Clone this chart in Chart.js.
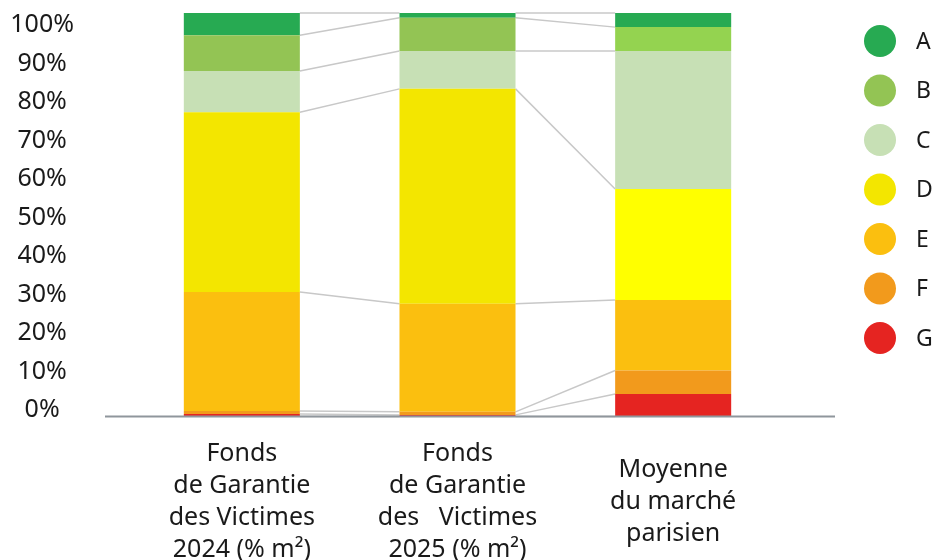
<!DOCTYPE html>
<html>
<head>
<meta charset="utf-8">
<script src="https://cdn.jsdelivr.net/npm/chart.js@4"></script>
<style>
body{margin:0;background:#fff}
#wrap{width:938px;height:560px}
</style>
</head>
<body>
<div id="wrap"><canvas id="dpeChart"></canvas></div>
<script>
// x categories, one entry per label line
const categories = [
  ["Fonds", "de Garantie", "des Victimes", "2024 (% m²)"],
  ["Fonds", "de Garantie", "des   Victimes", "2025 (% m²)"],
  ["Moyenne", "du marché", "parisien"]
];
const classes = ["A", "B", "C", "D", "E", "F", "G"];

// share of surface per energy class (%), one value per bar
const shareA = [5.5, 1.2, 3.5];
const shareB = [8.9, 8.2, 5.9];
const shareC = [10.2, 9.4, 34.2];
const shareD = [44.55, 53.25, 27.5];
const shareE = [29.5, 26.8, 17.5];
const shareF = [0.75, 0.75, 5.8];
const shareG = [0.6, 0.4, 5.6];

const yTicks = [0, 10, 20, 30, 40, 50, 60, 70, 80, 90, 100];

const colA = "#27AA52";
const colB = ["#93C454", "#93C454", "#94D350"];
const colC = "#C7E0B5";
const colD = ["#F3E600", "#F3E600", "#FFFF00"];
const colE = "#FBBF0F";
const colF = "#F29A1C";
const colG = "#E52421";

Chart.defaults.font.family = "'Noto Sans', sans-serif";
Chart.defaults.color = "#1a1a1a";

// grey lines joining the class boundaries of neighbouring bars
const connectors = {
  id: "connectors",
  beforeDatasetsDraw(chart) {
    const ctx = chart.ctx;
    const y = chart.scales.y;
    const sets = chart.data.datasets;
    const meta = chart.getDatasetMeta(0);
    ctx.save();
    ctx.strokeStyle = "#c8c8c8";
    ctx.lineWidth = 1.5;
    for (let i = 0; i < chart.data.labels.length - 1; i++) {
      const b1 = meta.data[i], b2 = meta.data[i + 1];
      const x1 = b1.x + b1.width / 2, x2 = b2.x - b2.width / 2;
      let a = 0, b = 0;
      const levels = [[0, 0]];
      sets.forEach(ds => { a += ds.data[i]; b += ds.data[i + 1]; levels.push([Math.min(a, 100), Math.min(b, 100)]); });
      levels.forEach(([l, r]) => {
        ctx.beginPath();
        ctx.moveTo(x1, y.getPixelForValue(l));
        ctx.lineTo(x2, y.getPixelForValue(r));
        ctx.stroke();
      });
    }
    ctx.restore();
  },
  afterDatasetsDraw(chart) {
    // base line, wider than the bar area
    const ctx = chart.ctx;
    const y0 = chart.scales.y.getPixelForValue(0);
    ctx.save();
    ctx.strokeStyle = "#8f969c";
    ctx.lineWidth = 2;
    ctx.beginPath();
    ctx.moveTo(105, y0);
    ctx.lineTo(835, y0);
    ctx.stroke();
    ctx.restore();
  }
};

// legend on the right: round swatches, A at the top
const sideLegend = {
  id: "sideLegend",
  afterDraw(chart) {
    const ctx = chart.ctx;
    const items = chart.data.datasets.slice().reverse();
    ctx.save();
    ctx.font = "23px 'Noto Sans'";
    ctx.textBaseline = "middle";
    items.forEach((ds, k) => {
      const cy = 41 + k * 49.5;
      const c = ds.backgroundColor;
      ctx.beginPath();
      ctx.arc(880, cy, 16, 0, Math.PI * 2);
      ctx.fillStyle = Array.isArray(c) ? c[0] : c;
      ctx.fill();
      ctx.fillStyle = "#1a1a1a";
      ctx.fillText(ds.label, 916, cy + 1);
    });
    ctx.restore();
  }
};

const bottomUp = [
  ["G", shareG, colG], ["F", shareF, colF], ["E", shareE, colE], ["D", shareD, colD],
  ["C", shareC, colC], ["B", shareB, colB], ["A", shareA, colA]
];

new Chart("dpeChart", {
  type: "bar",
  data: {
    labels: categories,
    datasets: bottomUp.map(([label, data, color]) => ({
      label: label,
      data: data,
      backgroundColor: color,
      borderWidth: 0,
      barPercentage: 0.538,
      categoryPercentage: 1
    }))
  },
  options: {
    responsive: true,
    maintainAspectRatio: false,
    animation: false,
    layout: { padding: { top: 13, right: 157, left: 0, bottom: 0 } },
    plugins: {
      legend: { display: false },
      tooltip: { enabled: false }
    },
    scales: {
      x: {
        stacked: true,
        grid: { display: false },
        border: { display: false },
        ticks: { font: { size: 25, lineHeight: 1.28 }, padding: 29, crossAlign: "center", maxRotation: 0, autoSkip: false },
        afterFit(s) { s.height = 143.5; }
      },
      y: {
        stacked: true,
        min: 0,
        max: 100,
        display: false
      },
      yLabels: {
        position: "left",
        min: -1.6,
        max: 103.1,
        grid: { display: false },
        border: { display: false },
        afterBuildTicks(s) { s.ticks = yTicks.map(v => ({ value: v })); },
        ticks: { font: { size: 25 }, padding: 52, crossAlign: "center", callback: v => v + "%" },
        afterFit(s) { s.width = 134; s.paddingTop = 0; s.paddingBottom = 0; }
      }
    }
  },
  plugins: [connectors, sideLegend]
});
</script>
</body>
</html>
